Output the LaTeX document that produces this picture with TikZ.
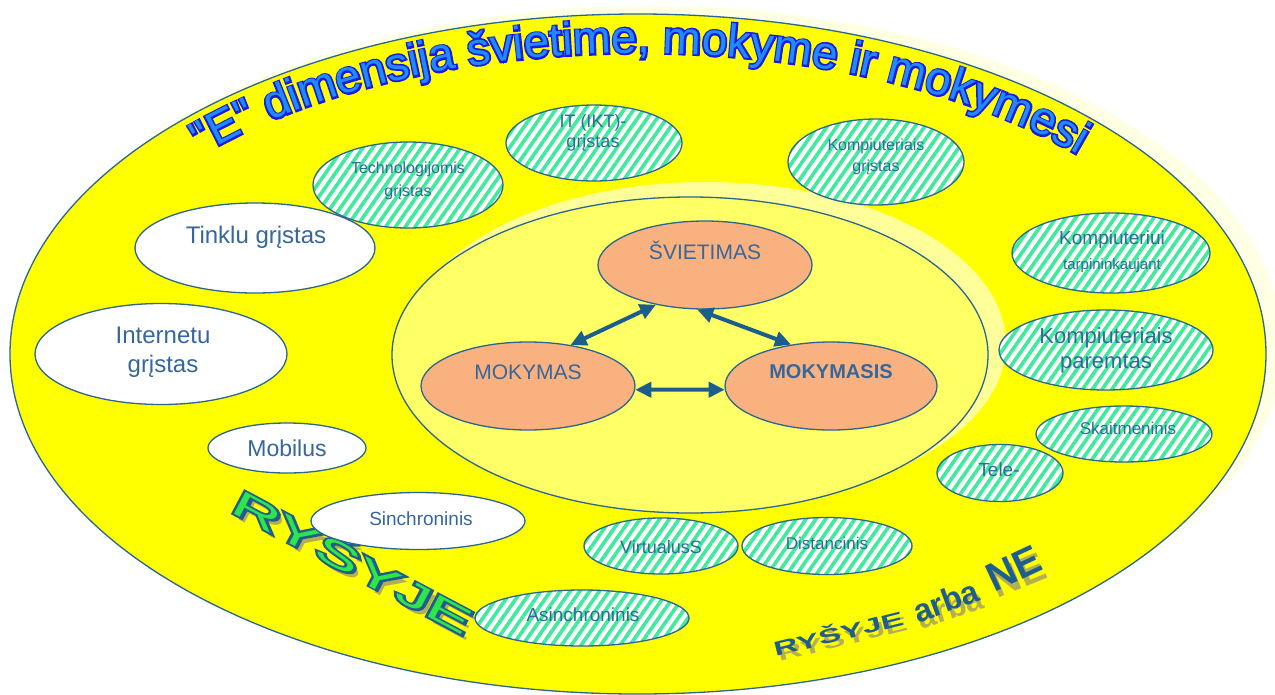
\documentclass[tikz,border=0pt]{standalone}
\usepackage{fontspec}
\setmainfont{Liberation Sans}[Ligatures=TeXOff]
\usetikzlibrary{arrows.meta,patterns.meta,shapes.geometric,decorations.text,calc}

\definecolor{glow}{HTML}{FFFFE4}
\definecolor{ring}{HTML}{FFFF00}
\definecolor{halo}{HTML}{FFFF99}
\definecolor{corefill}{HTML}{FFFF66}
\definecolor{peach}{HTML}{F9B27F}
\definecolor{ink}{HTML}{2B6590}
\definecolor{labelblue}{HTML}{36679C}
\definecolor{arrowblue}{HTML}{1B5D8C}
\definecolor{stripe}{HTML}{3DEB9A}
\definecolor{titlefill}{HTML}{1E8CFF}
\definecolor{titleedge}{HTML}{1A1AE0}
\definecolor{wordgreen}{HTML}{2EE64A}
\definecolor{worddark}{HTML}{1F5E8C}
\definecolor{wordshade}{HTML}{A39C68}

% glyphs filled and stroked in the current colour, with a given rim width
\newcommand{\rimmed}[1]{\special{pdf:literal direct 2 Tr #1 w}}
\newcommand{\plainglyph}{\special{pdf:literal direct 0 Tr}}
\newcommand{\ttlsize}{\fontsize{46}{50}\selectfont}

\begin{document}
\begin{tikzpicture}[x=1pt, y=-1pt,
  edge/.style={draw=ink, line width=1.3pt},
  blank/.style={ellipse, edge, fill=white, inner sep=0pt},
  hatched/.style={ellipse, edge, inner sep=0pt, preaction={fill=white},
    pattern={Lines[angle=55,distance=8pt,line width=3.6pt]}, pattern color=stripe},
  hub/.style={ellipse, edge, fill=peach, inner sep=0pt},
  dims/.style 2 args={minimum width=#1pt, minimum height=#2pt},
  lbl/.style={text=labelblue, align=center, inner sep=0pt},
  link/.style={draw=arrowblue, line width=4pt,
    {Triangle[length=16pt,width=15pt]}-{Triangle[length=16pt,width=15pt]}},
  titlepass/.style 2 args={decorate, decoration={text along path, text align=center,
    text color=#1, text={|\ttlsize#2|"E" dimensija švietime, mokyme ir mokymesi}}},
  wordart/.style={inner sep=0pt, font=\fontsize{36}{40}\selectfont},
  bigword/.style={inner sep=0pt},
  shade/.style={text=wordshade, opacity=0.8},
]
\useasboundingbox (0,0) rectangle (1275,694);
\fill[white] (0,0) rectangle (1275,694);

% outer ring with its soft glow
\fill[glow] (650,346) ellipse[x radius=632pt, y radius=340pt];
\draw[edge, fill=ring] (638,354) ellipse[x radius=628pt, y radius=340pt];

% inner field with its lighter halo
\fill[halo] (706,344) ellipse[x radius=300pt, y radius=162pt];
\draw[edge, fill=corefill] (690,355) ellipse[x radius=298pt, y radius=158pt];

% title along the top of the ring: a wide dark rim, then the bright face
\path[titlepass={titleedge}{\rimmed{3.4}}]
  ($(640,354)+(146:584pt and 301pt)$) arc[start angle=146, end angle=34, x radius=584pt, y radius=301pt];
\path[titlepass={titlefill}{\plainglyph}]
  ($(640,354)+(146:584pt and 301pt)$) arc[start angle=146, end angle=34, x radius=584pt, y radius=301pt];

% slanted word on the lower left
\node[wordart, shade, rotate=-28, xscale=1.9] (ryshade) at (359,566) {RYŠYJE};
\node[wordart, rotate=-28, xscale=1.9, text=worddark] (rysrim) at (354,560) {\rimmed{3.6}RYŠYJE};
\node[wordart, rotate=-28, xscale=1.9, text=wordgreen] (rys) at (354,560) {\plainglyph RYŠYJE};

% growing phrase on the lower right
\node[bigword, shade, rotate=14, xscale=1.7, font=\bfseries\fontsize{20}{24}\selectfont] (rysbshade) at (842,637) {RYŠYJE};
\node[bigword, shade, rotate=18, font=\bfseries\fontsize{32}{36}\selectfont] (arbashade) at (950,608) {arba};
\node[bigword, shade, rotate=22, font=\bfseries\fontsize{40}{44}\selectfont] (neshade) at (1018,575) {NE};
\node[bigword, rotate=14, xscale=1.7, text=worddark, font=\bfseries\fontsize{20}{24}\selectfont] (rysb) at (838,632) {RYŠYJE};
\node[bigword, rotate=20, text=worddark, font=\bfseries\fontsize{32}{36}\selectfont] (arba) at (946,601) {arba};
\node[bigword, rotate=25, text=worddark, font=\bfseries\fontsize{40}{44}\selectfont] (ne) at (1014,568) {NE};

% striped satellites
\node[hatched, dims={176}{76}] (it) at (594,143) {};
\node[lbl, font=\fontsize{18}{20}\selectfont] (itT) at (593,133) {IT (IKT)-\\grįstas};
\node[hatched, dims={190}{86}] (tech) at (408,185) {};
\node[lbl, font=\fontsize{16}{23}\selectfont] (techT) at (408,181) {Technologijomis\\grįstas};
\node[hatched, dims={176}{86}] (kgr) at (876,162) {};
\node[lbl, font=\fontsize{16}{21}\selectfont] (kgrT) at (876,157) {Kompiuteriais\\grįstas};
\node[hatched, dims={198}{80}] (ktarp) at (1111,253) {};
\node[lbl, font=\fontsize{19}{25}\selectfont] (ktarpT) at (1112,252) {Kompiuteriui\\{\fontsize{15}{25}\selectfont tarpininkaujant}};
\node[hatched, dims={214}{80}] (kpar) at (1106,350) {};
\node[lbl, font=\fontsize{22}{25}\selectfont] (kparT) at (1106,350) {Kompiuteriais\\paremtas};
\node[hatched, dims={176}{56}] (skait) at (1124,434) {};
\node[lbl, font=\fontsize{17}{20}\selectfont] (skaitT) at (1128,428) {Skaitmeninis};
\node[hatched, dims={126}{57}] (tele) at (1000,473) {};
\node[lbl, font=\fontsize{19}{22}\selectfont] (teleT) at (999,470) {Tele-};
\node[hatched, dims={170}{57}] (dist) at (827,546) {};
\node[lbl, font=\fontsize{17}{20}\selectfont] (distT) at (827,543) {Distancinis};
\node[hatched, dims={154}{56}] (virt) at (661,546) {};
\node[lbl, font=\fontsize{18}{20}\selectfont] (virtT) at (661,547) {VirtualusS};
\node[hatched, dims={214}{56}] (asin) at (582,618) {};
\node[lbl, font=\fontsize{19}{22}\selectfont] (asinT) at (583,615) {Asinchroninis};

% plain satellites
\node[blank, dims={214}{57}] (sinc) at (418,521) {};
\node[lbl, font=\fontsize{19}{22}\selectfont] (sincT) at (421,519) {Sinchroninis};
\node[blank, dims={158}{50}] (mob) at (287,448) {};
\node[lbl, font=\fontsize{23}{26}\selectfont] (mobT) at (287,448) {Mobilus};
\node[blank, dims={252}{101}] (inet) at (161,354) {};
\node[lbl, font=\fontsize{24}{29}\selectfont] (inetT) at (163,352) {Internetu\\grįstas};
\node[blank, dims={240}{90}] (tinklu) at (255,248) {};
\node[lbl, font=\fontsize{24}{28}\selectfont] (tinkluT) at (256,237) {Tinklu grįstas};

% the three hubs
\node[hub, dims={214}{88}] (svi) at (705,265) {};
\node[lbl, font=\fontsize{21}{24}\selectfont] (sviT) at (705,250) {ŠVIETIMAS};
\node[hub, dims={214}{88}] (mokymas) at (528,386) {};
\node[lbl, font=\fontsize{21}{24}\selectfont] (mokymasT) at (528,372) {MOKYMAS};
\node[hub, dims={212}{88}] (mokymasis) at (831,386) {};
\node[lbl, font=\bfseries\fontsize{20}{24}\selectfont] (mokymasisT) at (831,372) {MOKYMASIS};

% links between the hubs
\draw[link] (mokymas.44) -- (svi.219);
\draw[link] (svi.260) -- (mokymasis.134);
\draw[link] (mokymas.358) -- (mokymasis.182);
\end{tikzpicture}
\end{document}
